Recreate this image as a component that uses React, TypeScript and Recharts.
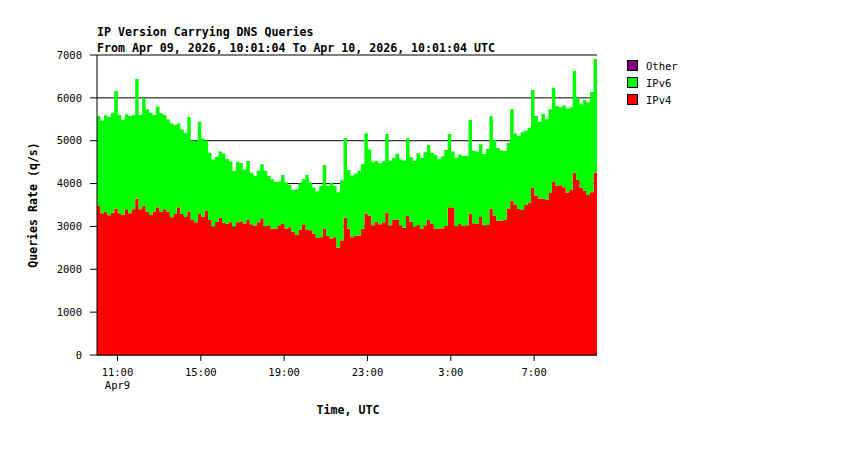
import React from 'react';
import { AreaChart, Area, XAxis, YAxis, CartesianGrid } from 'recharts';

const titleLine1 = 'IP Version Carrying DNS Queries';
const titleLine2 = 'From Apr 09, 2026, 10:01:04 To Apr 10, 2026, 10:01:04 UTC';
const yAxisTitle = 'Queries Rate (q/s)';
const xAxisTitle = 'Time, UTC';
const startDayLabel = 'Apr9';
const slotMinutes = 10;

// top of the stack (IPv4 + IPv6), q/s, one value per 10-minute slot
const totalRate = [
  5577, 5470, 5592, 5560, 5650, 6160, 5600, 5483, 5620, 5577,
  5600, 6440, 5600, 6000, 5732, 5654, 5600, 5800, 5640, 5600,
  5500, 5406, 5366, 5400, 5260, 5180, 5553, 5000, 5001, 5440,
  5050, 5000, 4720, 4560, 4627, 4750, 4700, 4573, 4520, 4293,
  4510, 4480, 4330, 4526, 4254, 4180, 4300, 4450, 4300, 4180,
  4100, 4040, 4050, 4200, 4030, 3970, 3850, 3870, 4010, 4100,
  4200, 4028, 3900, 3820, 3950, 4433, 3950, 4020, 3950, 3800,
  4080, 5063, 4316, 4190, 4230, 4300, 4450, 5172, 4800, 4510,
  4530, 4472, 4520, 5157, 4535, 4600, 4700, 4560, 4540, 5055,
  4612, 4530, 4705, 4600, 4728, 4900, 4720, 4667, 4566, 4630,
  4783, 5157, 4750, 4600, 4680, 4651, 4650, 5482, 4760, 4750,
  4915, 4690, 4810, 5575, 5016, 4830, 4770, 4760, 4950, 5732,
  5171, 5109, 5200, 5230, 5300, 6183, 5576, 5450, 5623, 5500,
  5732, 6237, 5810, 5779, 5820, 5750, 5780, 6626, 6000, 5850,
  5950, 5900, 6135, 6906,
];

// IPv4 rate, q/s
const ipv4Rate = [
  3477, 3305, 3340, 3260, 3320, 3420, 3305, 3270, 3400, 3305,
  3400, 3650, 3400, 3480, 3344, 3266, 3350, 3450, 3344, 3398,
  3350, 3212, 3290, 3445, 3290, 3230, 3350, 3150, 3100, 3300,
  3220, 3360, 3150, 2994, 3102, 3200, 3087, 3060, 3100, 2994,
  3100, 3120, 3071, 3150, 3050, 3020, 3100, 3188, 3000, 3025,
  2954, 2954, 3030, 3070, 2954, 2980, 2877, 2800, 2920, 3050,
  2930, 2908, 2831, 2740, 2745, 2950, 2784, 2720, 2745, 2505,
  2670, 3200, 2948, 2750, 2780, 2790, 2948, 3300, 3250, 3025,
  3110, 3050, 3100, 3320, 3025, 3150, 3160, 3025, 2970, 3250,
  3110, 2990, 3033, 2950, 3030, 3150, 3070, 2950, 2950, 2960,
  3010, 3445, 3430, 3000, 3056, 3010, 3030, 3300, 3072, 3056,
  3220, 3025, 3033, 3420, 3250, 3134, 3140, 3150, 3420, 3600,
  3500, 3410, 3383, 3500, 3550, 3900, 3718, 3650, 3650, 3616,
  3780, 4050, 3943, 3960, 3912, 3790, 3850, 4250, 4085, 3900,
  3830, 3733, 3800, 4250,
];

const yTicks = [0, 1000, 2000, 3000, 4000, 5000, 6000, 7000];
const xTickLabels = ['11:00', '15:00', '19:00', '23:00', '3:00', '7:00'];
// minutes after 10:01:04 UTC
const xTickMinutes = [58.93, 298.93, 538.93, 778.93, 1018.93, 1258.93];

const legendNames = ['Other', 'IPv6', 'IPv4'];
const legendColors = ['#800080', '#00ff00', '#ff0000'];

const data = totalRate.map((tot, i) => ({
  t: i * slotMinutes,
  ipv4: ipv4Rate[i],
  ipv6: tot - ipv4Rate[i],
}));
data.push({ ...data[data.length - 1], t: totalRate.length * slotMinutes });

const MONO = '"DejaVu Sans Mono", "Liberation Mono", monospace';

const XTick = (props: any) => {
  const { x, y, payload } = props;
  const idx = xTickMinutes.indexOf(payload.value);
  return (
    <g>
      <text x={x} y={y} dy="0.71em" textAnchor="middle" fontFamily={MONO} fontSize={10.5} fill="#000">
        {xTickLabels[idx]}
      </text>
      {idx === 0 && (
        <text x={x} y={y + 13} dy="0.71em" textAnchor="middle" fontFamily={MONO} fontSize={10.5} fill="#000">
          {startDayLabel}
        </text>
      )}
    </g>
  );
};

export default function App() {
  return (
    <div style={{ position: 'absolute', left: 0, top: 0, width: 850, height: 450, background: '#fff' }}>
      <AreaChart
        width={850}
        height={450}
        data={data}
        margin={{ top: 55, right: 253, bottom: 65, left: 37 }}
      >
        <CartesianGrid horizontal vertical={false} stroke="#000" strokeOpacity={1} />
        <XAxis
          dataKey="t"
          type="number"
          domain={[0, 1440]}
          ticks={xTickMinutes}
          interval={0}
          height={30}
          tickSize={6}
          tickMargin={8}
          axisLine={{ stroke: '#000' }}
          tickLine={{ stroke: '#000' }}
          tick={<XTick />}
        />
        <YAxis
          type="number"
          domain={[0, 7000]}
          ticks={yTicks}
          interval={0}
          width={60}
          tickSize={7}
          tickMargin={8}
          axisLine={{ stroke: '#000' }}
          tickLine={{ stroke: '#000' }}
          tick={{ fill: '#000', fontSize: 10.5, fontFamily: MONO }}
        />
        <Area
          type="stepAfter"
          dataKey="ipv4"
          stackId="a"
          stroke="none"
          fill="#ff0000"
          fillOpacity={1}
          dot={false}
          activeDot={false}
          isAnimationActive={false}
        />
        <Area
          type="stepAfter"
          dataKey="ipv6"
          stackId="a"
          stroke="none"
          fill="#00ff00"
          fillOpacity={1}
          dot={false}
          activeDot={false}
          isAnimationActive={false}
        />
      </AreaChart>
      <svg
        width={850}
        height={450}
        style={{ position: 'absolute', left: 0, top: 0, pointerEvents: 'none' }}
      >
        <text x={97} y={32} dominantBaseline="central" fontFamily={MONO} fontWeight="bold" fontSize={11.6} fill="#000">
          {titleLine1}
        </text>
        <text x={97} y={48} dominantBaseline="central" fontFamily={MONO} fontWeight="bold" fontSize={11.6} fill="#000">
          {titleLine2}
        </text>
        <text
          x={33}
          y={205}
          transform="rotate(-90 33 205)"
          textAnchor="middle"
          dominantBaseline="central"
          fontFamily={MONO}
          fontWeight="bold"
          fontSize={11.6}
          fill="#000"
        >
          {yAxisTitle}
        </text>
        <text x={348} y={410} textAnchor="middle" dominantBaseline="central" fontFamily={MONO} fontWeight="bold" fontSize={11.6} fill="#000">
          {xAxisTitle}
        </text>
        {legendNames.map((name, i) => (
          <g key={name}>
            <rect x={627.5} y={60.5 + i * 17} width={10} height={10} fill={legendColors[i]} stroke="#000" strokeWidth={1} />
            <text x={646} y={66 + i * 17} dominantBaseline="central" fontFamily={MONO} fontSize={10.5} fill="#000">
              {name}
            </text>
          </g>
        ))}
      </svg>
    </div>
  );
}
